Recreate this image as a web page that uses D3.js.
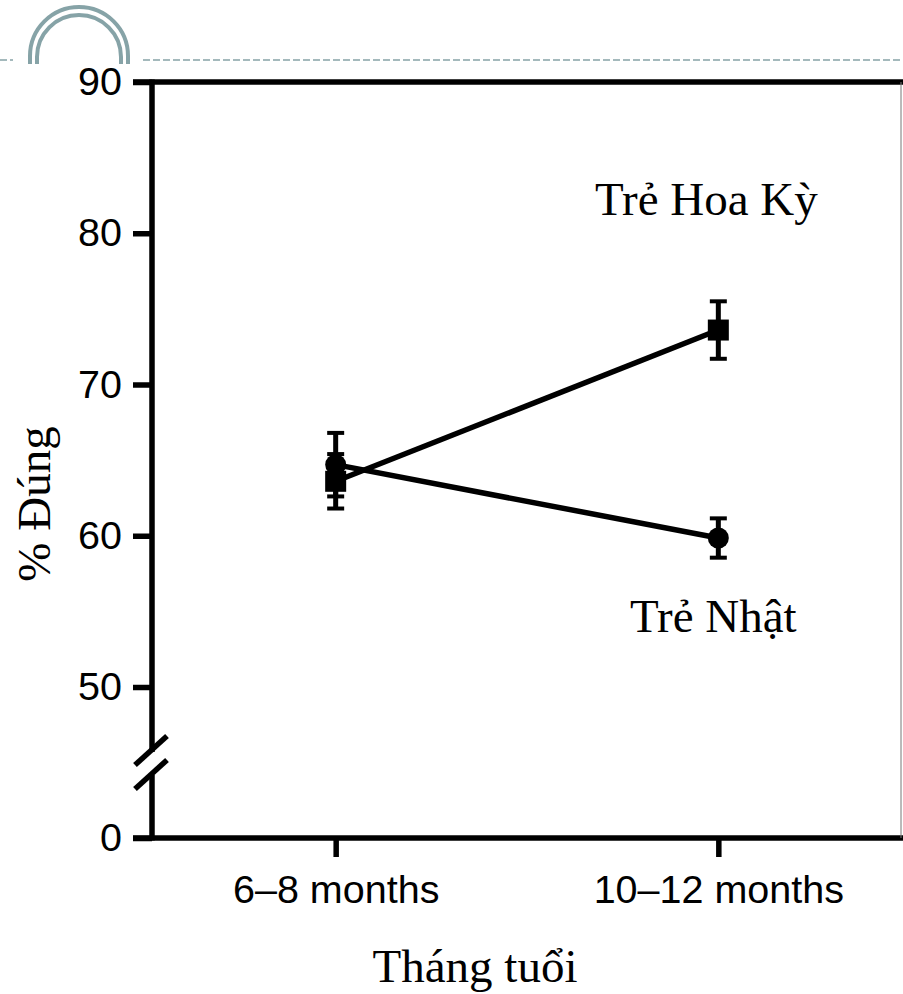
<!DOCTYPE html>
<html>
<head>
<meta charset="utf-8">
<script src="https://cdn.jsdelivr.net/npm/d3@7"></script>
<style>
  body { margin: 0; background: #fff; }
  svg { display: block; }
  .tick text { font-family: "Liberation Sans", Arial, sans-serif; font-size: 39.5px; fill: #000; }
  .serif { font-family: "Liberation Serif", "Times New Roman", serif; font-size: 47px; fill: #000; }
</style>
</head>
<body>
<script>
// data
const months = ["6–8 months", "10–12 months"];
const usMean = [63.6, 73.6];
const usErr = [1.8, 1.9];
const jpMean = [64.7, 59.85];
const jpErr = [2.1, 1.3];
const yTicks = [0, 50, 60, 70, 80, 90];

const w = 903, h = 994;
const plotLeft = 152, plotRight = 902, plotTop = 82, plotBottom = 838;

const svg = d3.select("body").append("svg")
  .attr("width", w)
  .attr("height", h);

// slide decoration (arc + dashed rule)
const deco = "#86a3a7";
svg.append("path")
  .attr("d", "M30,64 L30,56 A49,49 0 0 1 128,56 L128,64")
  .attr("fill", "none").attr("stroke", deco).attr("stroke-width", 4);
svg.append("path")
  .attr("d", "M37,64 L37,57 A42,42 0 0 1 121,57 L121,64")
  .attr("fill", "none").attr("stroke", deco).attr("stroke-width", 4);
svg.append("line").attr("x1", 0).attr("x2", 13).attr("y1", 60).attr("y2", 60)
  .attr("stroke", deco).attr("stroke-width", 1.5).attr("stroke-dasharray", "7,3");
svg.append("line").attr("x1", 143).attr("x2", w).attr("y1", 60).attr("y2", 60)
  .attr("stroke", deco).attr("stroke-width", 1.5).attr("stroke-dasharray", "7,3");

// scales - y is broken between 0 and 50
const x = d3.scalePoint()
  .domain(months)
  .range([plotLeft, plotRight])
  .padding(0.48);

const y = d3.scaleLinear()
  .domain([0, 50, 90])
  .range([plotBottom, 687, plotTop]);

// y axis ticks and labels
const yAxis = svg.append("g")
  .attr("transform", `translate(${plotLeft},0)`)
  .call(d3.axisLeft(y).tickValues(yTicks).tickSize(19).tickPadding(11));
yAxis.select(".domain").remove();
yAxis.selectAll(".tick line").attr("stroke", "#000").attr("stroke-width", 5.5);

// x axis ticks and labels
const xAxis = svg.append("g")
  .attr("transform", `translate(0,${plotBottom})`)
  .call(d3.axisBottom(x).tickSize(19).tickPadding(18));
xAxis.select(".domain").remove();
xAxis.selectAll(".tick line").attr("stroke", "#000").attr("stroke-width", 5.5);

// frame lines
const frame = svg.append("g").attr("stroke", "#000").attr("stroke-width", 5.5);
frame.append("line").attr("x1", 133).attr("x2", w).attr("y1", plotTop).attr("y2", plotTop);
frame.append("line").attr("x1", 133).attr("x2", w).attr("y1", plotBottom).attr("y2", plotBottom);
frame.append("line").attr("x1", plotLeft).attr("x2", plotLeft).attr("y1", plotTop - 2.5).attr("y2", 752);
frame.append("line").attr("x1", plotLeft).attr("x2", plotLeft).attr("y1", 775).attr("y2", plotBottom + 2.5);
// break marks
frame.append("line").attr("x1", 135).attr("y1", 765).attr("x2", 167).attr("y2", 736);
frame.append("line").attr("x1", 135).attr("y1", 789).attr("x2", 167).attr("y2", 760);
svg.append("line").attr("x1", 901).attr("x2", 901).attr("y1", plotTop).attr("y2", plotBottom)
  .attr("stroke", "#777").attr("stroke-width", 1);

// series
const series = [
  { mean: jpMean, err: jpErr, shape: "circle" },
  { mean: usMean, err: usErr, shape: "square" }
];

const line = d3.line()
  .x((d, i) => x(months[i]))
  .y(d => y(d));

series.forEach(s => {
  svg.append("path")
    .datum(s.mean)
    .attr("d", line)
    .attr("fill", "none")
    .attr("stroke", "#000")
    .attr("stroke-width", 5.5);
});

series.forEach(s => {
  const g = svg.append("g").attr("stroke", "#000");
  months.forEach((m, i) => {
    const cx = x(m);
    const y0 = y(s.mean[i] - s.err[i]);
    const y1 = y(s.mean[i] + s.err[i]);
    g.append("line").attr("x1", cx).attr("x2", cx).attr("y1", y0).attr("y2", y1).attr("stroke-width", 5);
    g.append("line").attr("x1", cx - 8.5).attr("x2", cx + 8.5).attr("y1", y0).attr("y2", y0).attr("stroke-width", 4);
    g.append("line").attr("x1", cx - 8.5).attr("x2", cx + 8.5).attr("y1", y1).attr("y2", y1).attr("stroke-width", 4);
  });
});

series.forEach(s => {
  months.forEach((m, i) => {
    if (s.shape === "circle") {
      svg.append("circle")
        .attr("cx", x(m)).attr("cy", y(s.mean[i])).attr("r", 10.5)
        .attr("fill", "#000");
    } else {
      svg.append("rect")
        .attr("x", x(m) - 10.5).attr("y", y(s.mean[i]) - 10.5)
        .attr("width", 21).attr("height", 21)
        .attr("fill", "#000");
    }
  });
});

// labels
svg.append("text").attr("class", "serif")
  .attr("x", 595).attr("y", 215).text("Trẻ Hoa Kỳ");
svg.append("text").attr("class", "serif")
  .attr("x", 630).attr("y", 632).text("Trẻ Nhật");
svg.append("text").attr("class", "serif")
  .attr("text-anchor", "middle")
  .attr("x", 475).attr("y", 982).text("Tháng tuổi");
svg.append("text").attr("class", "serif")
  .attr("text-anchor", "middle")
  .attr("transform", "translate(50,504) rotate(-90)")
  .text("% Đúng");
</script>
</body>
</html>
